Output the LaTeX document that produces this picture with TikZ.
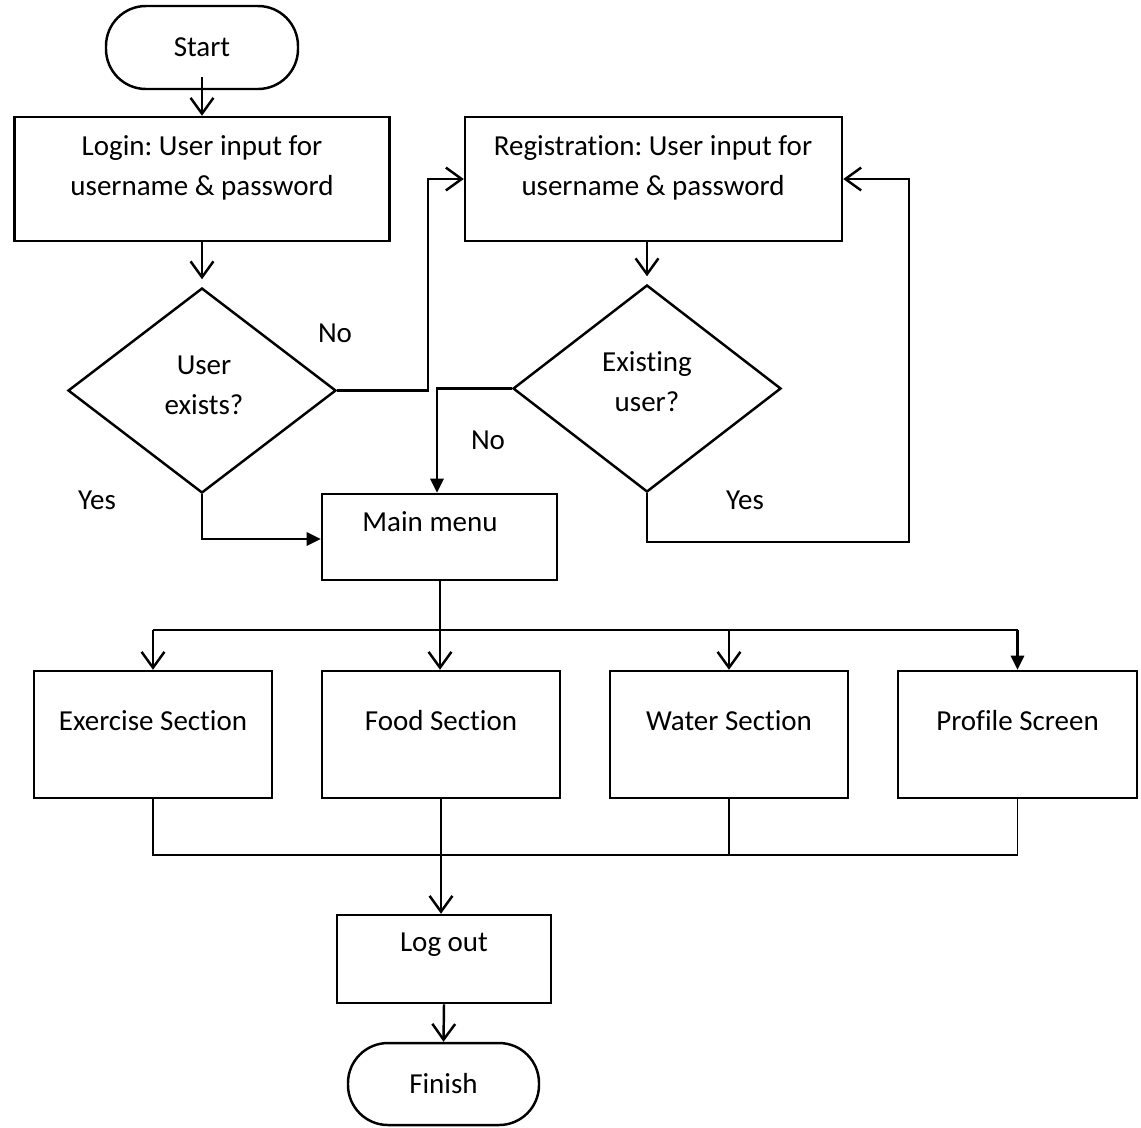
\documentclass[tikz,border=0pt]{standalone}
\usepackage{fontspec}
\setmainfont{Carlito}[RawFeature=-liga]
\usetikzlibrary{arrows.meta,shapes.geometric}
\begin{document}
\frenchspacing
\begin{tikzpicture}[x=0.02cm,y=-0.02cm,
  font=\fontsize{16.5}{22.7}\selectfont,
  box/.style 2 args={draw,line width=1.4pt,rectangle,inner sep=0pt,
    minimum width=#1*0.02cm,minimum height=#2*0.02cm},
  term/.style 2 args={draw,line width=1.4pt,rectangle,inner sep=0pt,
    rounded corners=0.8cm,minimum width=#1*0.02cm,minimum height=#2*0.02cm},
  decision/.style 2 args={draw,line width=1.4pt,diamond,inner sep=0pt,
    minimum width=#1*0.02cm,minimum height=#2*0.02cm},
  txt/.style={inner sep=0pt,align=center},
  line/.style={line width=1.4pt},
  thin/.style={line width=0.8pt},
  openarr/.style={line,-{Straight Barb[length=9pt,width=13pt]}},
  fillarr/.style={line,-{Triangle[length=8pt,width=7.5pt]}}
]
\useasboundingbox (0,0) rectangle (1141,1127);

% nodes
\node[term={192}{83}] (start) at (202,47.5) {Start};
\node[box={375}{124}] (login) at (202,179) {};
\node[txt] (logint) at (202,168) {Login: User input for\\username \& password};
\node[decision={268}{205}] (userex) at (202,390.5) {};
\node[txt] (userext) at (204,385) {User\\exists?};
\node[box={377}{124}] (reg) at (653.5,179) {};
\node[txt] (regt) at (653,168) {Registration: User input for\\username \& password};
\node[decision={268}{207}] (exuser) at (647,388.5) {};
\node[txt] (exusert) at (647,382) {Existing\\user?};
\node[box={235}{86}] (menu) at (439.5,537) {};
\node[txt] (menut) at (430,522) {Main menu};
\node[box={238}{127}] (ex) at (153,734.5) {};
\node[txt] (ext) at (153,721) {Exercise Section};
\node[box={238}{127}] (food) at (441,734.5) {};
\node[txt] (foodt) at (441,721) {Food Section};
\node[box={238}{127}] (water) at (729,734.5) {};
\node[txt] (watert) at (729,721) {Water Section};
\node[box={239}{127}] (prof) at (1017.5,734.5) {};
\node[txt] (proft) at (1017.5,721) {Profile Screen};
\node[box={214}{88}] (logout) at (444,959) {};
\node[txt] (logoutt) at (444,945) {Log out};
\node[term={191}{82}] (finish) at (443.5,1084) {Finish};

% labels
\node[txt] (no1) at (335,333) {No};
\node[txt] (no2) at (488,440) {No};
\node[txt] (yes1) at (97,500) {Yes};
\node[txt] (yes2) at (745,500) {Yes};

% helper coordinates
\coordinate (bus) at (440,630);
\coordinate (merge) at (440,855);

% connectors
\draw[openarr] ([yshift=0.26cm]start.south) -- (login.north);
\draw[openarr] (login.south) -- ([yshift=0.15cm]userex.north);
\draw[openarr] (userex.east) -- ++(91,0) |- (reg.west);
\draw[openarr] (reg.south -| exuser.north) -- ([yshift=0.15cm]exuser.north);
\draw[fillarr] (exuser.west) -| ([xshift=-0.05cm]menu.north);
\draw[openarr] (exuser.south) |- (909,542) |- (reg.east);
\draw[fillarr] (userex.south) |- ([yshift=-0.04cm]menu.west);

\draw[line] (menu.south -| bus) -- (bus);
\draw[line] (ex.north |- bus) -- (prof.north |- bus);
\draw[openarr] (ex.north |- bus) -- (ex.north);
\draw[openarr] (bus) -- (bus |- food.north);
\draw[openarr] (water.north |- bus) -- (water.north);
\draw[fillarr] (prof.north |- bus) -- (prof.north);

\draw[thin] (ex.south) -- (ex.south |- merge) -- (prof.south |- merge) -- (prof.south);
\draw[thin] (water.south) -- (water.south |- merge);
\draw[openarr] (food.south) -- (food.south |- logout.north);
\draw[openarr] (logout.south) -- (finish.north);
\end{tikzpicture}
\end{document}
